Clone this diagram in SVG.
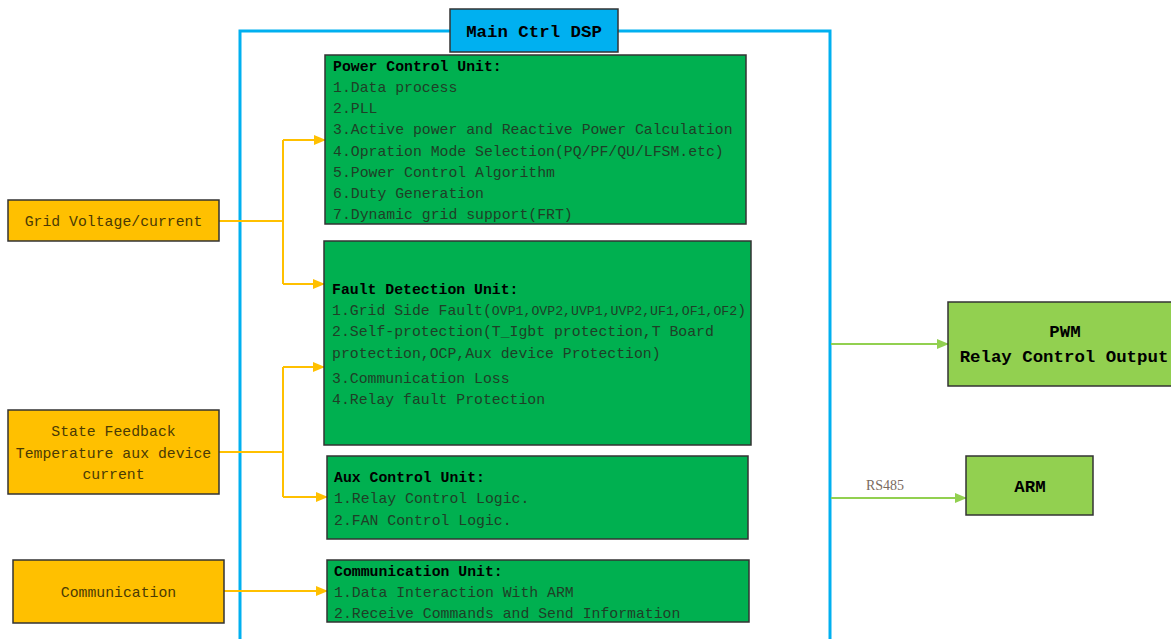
<svg xmlns="http://www.w3.org/2000/svg" width="1171" height="639" viewBox="0 0 1171 639">
<style>
.mono{font-family:"Liberation Mono","DejaVu Sans Mono",monospace;font-size:14.8px;}
.t{font-weight:bold;fill:#000;}
.i{fill:#1F3F27;}
.unit{fill:#00B050;stroke:#333;stroke-width:1.5;}
.in{fill:#FFC000;stroke:#333;stroke-width:1.5;}
.out{fill:#92D050;stroke:#333;stroke-width:1.5;}
.it{fill:#4A3A05;}
.big{font-family:"Liberation Mono","DejaVu Sans Mono",monospace;font-size:17.4px;font-weight:bold;fill:#000;}
.y{stroke:#FFC000;stroke-width:2;fill:none;}
.g{stroke:#92D050;stroke-width:2;fill:none;}
</style>
<defs>
<marker id="ay" markerUnits="userSpaceOnUse" markerWidth="12" markerHeight="10" refX="11" refY="5" orient="auto"><path d="M0,0 L12,5 L0,10 z" fill="#FFC000"/></marker>
<marker id="ag" markerUnits="userSpaceOnUse" markerWidth="12" markerHeight="10" refX="11" refY="5" orient="auto"><path d="M0,0 L12,5 L0,10 z" fill="#92D050"/></marker>
</defs>
<rect width="1171" height="639" fill="#fff"/>
<g id="main-dsp">
<rect x="240" y="31" width="590" height="620" fill="none" stroke="#00B0F0" stroke-width="3"/>
<rect x="450" y="9" width="168" height="43" fill="#00B0F0" stroke="#333" stroke-width="1.5"/>
<text class="big" x="534" y="37" text-anchor="middle">Main Ctrl DSP</text>
</g>
<g id="connectors">
<path class="y" d="M219,221 H283 M283,140 V284"/>
<path class="y" d="M283,140 H325" marker-end="url(#ay)"/>
<path class="y" d="M283,284 H324" marker-end="url(#ay)"/>
<path class="y" d="M219,452 H283 M283,367 V497"/>
<path class="y" d="M283,367 H324" marker-end="url(#ay)"/>
<path class="y" d="M283,497 H327" marker-end="url(#ay)"/>
<path class="y" d="M224,591 H327" marker-end="url(#ay)"/>
<path class="g" d="M831,344 H948" marker-end="url(#ag)"/>
<path class="g" d="M831,498 H966" marker-end="url(#ag)"/>
<text x="885" y="490" text-anchor="middle" font-family="Liberation Serif,serif" font-size="14" fill="#7A6A5E">RS485</text>
</g>
<g id="power-control-unit">
<rect class="unit" x="325" y="55" width="421" height="169"/>
<text class="mono t" x="333" y="71">Power Control Unit:</text>
<text class="mono i" x="333" y="92">1.Data process</text>
<text class="mono i" x="333" y="113">2.PLL</text>
<text class="mono i" x="333" y="134">3.Active power and Reactive Power Calculation</text>
<text class="mono i" x="333" y="156">4.Opration Mode Selection(PQ/PF/QU/LFSM.etc)</text>
<text class="mono i" x="333" y="177">5.Power Control Algorithm</text>
<text class="mono i" x="333" y="198">6.Duty Generation</text>
<text class="mono i" x="333" y="219">7.Dynamic grid support(FRT)</text>
</g>
<g id="fault-detection-unit">
<rect class="unit" x="324" y="241" width="427" height="204"/>
<text class="mono t" x="332" y="294">Fault Detection Unit:</text>
<text class="mono i" x="332" y="315">1.Grid Side Fault(<tspan font-size="13.2">OVP1,OVP2,UVP1,UVP2,UF1,OF1,OF2</tspan>)</text>
<text class="mono i" x="332" y="336">2.Self-protection(T_Igbt protection,T Board</text>
<text class="mono i" x="332" y="358">protection,OCP,Aux device Protection)</text>
<text class="mono i" x="332" y="383">3.Communication Loss</text>
<text class="mono i" x="332" y="404">4.Relay fault Protection</text>
</g>
<g id="aux-control-unit">
<rect class="unit" x="327" y="456" width="421" height="83"/>
<text class="mono t" x="334" y="482">Aux Control Unit:</text>
<text class="mono i" x="334" y="503">1.Relay Control Logic.</text>
<text class="mono i" x="334" y="525">2.FAN Control Logic.</text>
</g>
<g id="communication-unit">
<rect class="unit" x="327" y="560" width="422" height="62"/>
<text class="mono t" x="334" y="576">Communication Unit:</text>
<text class="mono i" x="334" y="597">1.Data Interaction With ARM</text>
<text class="mono i" x="334" y="618">2.Receive Commands and Send Information</text>
</g>
<g id="grid-voltage">
<rect class="in" x="8" y="200" width="211" height="41"/>
<text class="mono it" x="113.5" y="226" text-anchor="middle">Grid Voltage/current</text>
</g>
<g id="state-feedback">
<rect class="in" x="8" y="410" width="211" height="84"/>
<text class="mono it" x="113.5" y="436" text-anchor="middle">State Feedback</text>
<text class="mono it" x="113.5" y="458" text-anchor="middle">Temperature aux device</text>
<text class="mono it" x="113.5" y="479" text-anchor="middle">current</text>
</g>
<g id="communication">
<rect class="in" x="13" y="560" width="211" height="63"/>
<text class="mono it" x="118.5" y="597" text-anchor="middle">Communication</text>
</g>
<g id="pwm-output">
<rect class="out" x="948" y="302" width="230" height="84"/>
<text class="big" x="1065" y="337" text-anchor="middle">PWM</text>
<text class="big" x="1064" y="362" text-anchor="middle">Relay Control Output</text>
</g>
<g id="arm">
<rect class="out" x="966" y="456" width="127" height="59"/>
<text class="big" x="1030" y="492" text-anchor="middle">ARM</text>
</g>
</svg>
